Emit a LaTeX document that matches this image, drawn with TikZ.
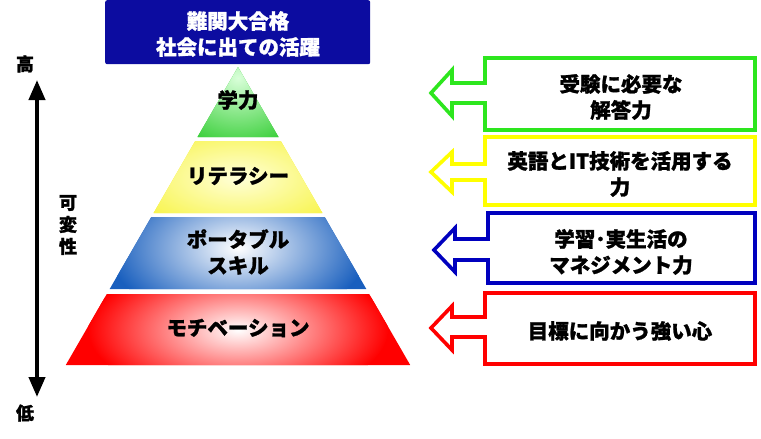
\documentclass[tikz,border=0pt]{standalone}
\usepackage{fontspec}
\newfontfamily\jp{Noto Sans CJK JP}[BoldFeatures={FakeBold=1.2}]
\usetikzlibrary{arrows.meta}
\definecolor{topblue}{RGB}{12,12,160}
\definecolor{cgreen}{RGB}{45,230,30}
\definecolor{cyellow}{RGB}{255,255,0}
\definecolor{cblue}{RGB}{0,0,190}
\definecolor{cred}{RGB}{255,0,0}
\definecolor{pgreen}{RGB}{35,200,35}
\definecolor{pyellow}{RGB}{245,240,20}
\definecolor{pblue}{RGB}{25,95,190}
\definecolor{pred}{RGB}{255,0,0}
\begin{document}
\begin{tikzpicture}[x=1pt,y=-1pt,
  jtext/.style={font=\jp\bfseries\fontsize{20.5}{26}\selectfont, align=center, inner sep=0pt},
  calloutline/.style={line width=3.6, fill=white, line join=miter}]
\useasboundingbox (0,0) rectangle (761,439);

% top box
\node[fill=topblue, rounded corners=2, minimum width=265, minimum height=64, anchor=north west, inner sep=0pt] (top) at (105,0) {};
\node[jtext, text=white] (toptext) at (238,34) {難関大合格\\社会に出ての活躍};

% pyramid: green
\begin{scope}
\clip (238,67) -- (278.5,137) -- (197.5,137) -- cycle;
\fill[pgreen] (190,60) rectangle (290,140);
\shade[inner color=green!15!white, outer color=pgreen] (238,78) ellipse [x radius=90, y radius=80];
\end{scope}
% yellow
\begin{scope}
\clip (195.2,141) -- (280.8,141) -- (322.4,213) -- (153.6,213) -- cycle;
\fill[pyellow] (150,140) rectangle (330,215);
\shade[inner color=yellow!15!white, outer color=pyellow] (238,178) ellipse [x radius=160, y radius=75];
\end{scope}
% blue
\begin{scope}
\clip (151.3,217) -- (324.7,217) -- (366.3,289) -- (109.7,289) -- cycle;
\fill[pblue] (105,215) rectangle (370,290);
\shade[inner color=white, outer color=pblue] (238,248) ellipse [x radius=130, y radius=75];
\end{scope}
% red
\begin{scope}
\clip (106.8,294) -- (369.2,294) -- (410.2,365) -- (65.8,365) -- cycle;
\fill[pred] (60,290) rectangle (415,370);
\shade[inner color=white, outer color=pred] (238,330) ellipse [x radius=150, y radius=70];
\end{scope}

\node[jtext] (l1) at (238,100) {学力};
\node[jtext] (l2) at (238,176) {リテラシー};
\node[jtext] (l3) at (238,252) {ポータブル\\スキル};
\node[jtext] (l4) at (238,328) {モチベーション};

% axis
\coordinate (axtop) at (37,80);
\coordinate (axbot) at (37,397);
\draw[line width=4, {Triangle[width=16,length=20]}-{Triangle[width=16,length=20]}] (axtop) -- (axbot);
\node[jtext, font=\jp\bfseries\fontsize{18}{22}\selectfont] (hi) at (25,64) {高};
\node[jtext, font=\jp\bfseries\fontsize{18}{22}\selectfont] (lo) at (25,413) {低};
\node[jtext, font=\jp\bfseries\fontsize{18}{22}\selectfont] (var) at (68,225) {可\\変\\性};

% callouts
\draw[calloutline, draw=cgreen] (485,58) -- (755,58) -- (755,130) -- (485,130) -- (485,103) -- (452,103) -- (452,116) -- (431,93) -- (452,70) -- (452,83) -- (485,83) -- cycle;
\node[jtext] (t1) at (621,97) {受験に必要な\\解答力};

\draw[calloutline, draw=cyellow] (485,137) -- (755,137) -- (755,205) -- (485,205) -- (485,180) -- (452,180) -- (452,192) -- (431,172) -- (452,152) -- (452,164) -- (485,164) -- cycle;
\node[jtext] (t2) at (620,174) {英語とIT技術を活用する\\力};

\draw[calloutline, draw=cblue] (488,213) -- (755,213) -- (755,283) -- (488,283) -- (488,260) -- (455,260) -- (455,272) -- (434,250) -- (455,228) -- (455,239) -- (488,239) -- cycle;
\node[jtext] (t3) at (621,252) {学習･実生活の\\マネジメント力};

\draw[calloutline, draw=cred] (485,293) -- (755,293) -- (755,364) -- (485,364) -- (485,337) -- (452,337) -- (452,350) -- (431,328) -- (452,306) -- (452,317) -- (485,317) -- cycle;
\node[jtext] (t4) at (620,331) {目標に向かう強い心};
\end{tikzpicture}
\end{document}
